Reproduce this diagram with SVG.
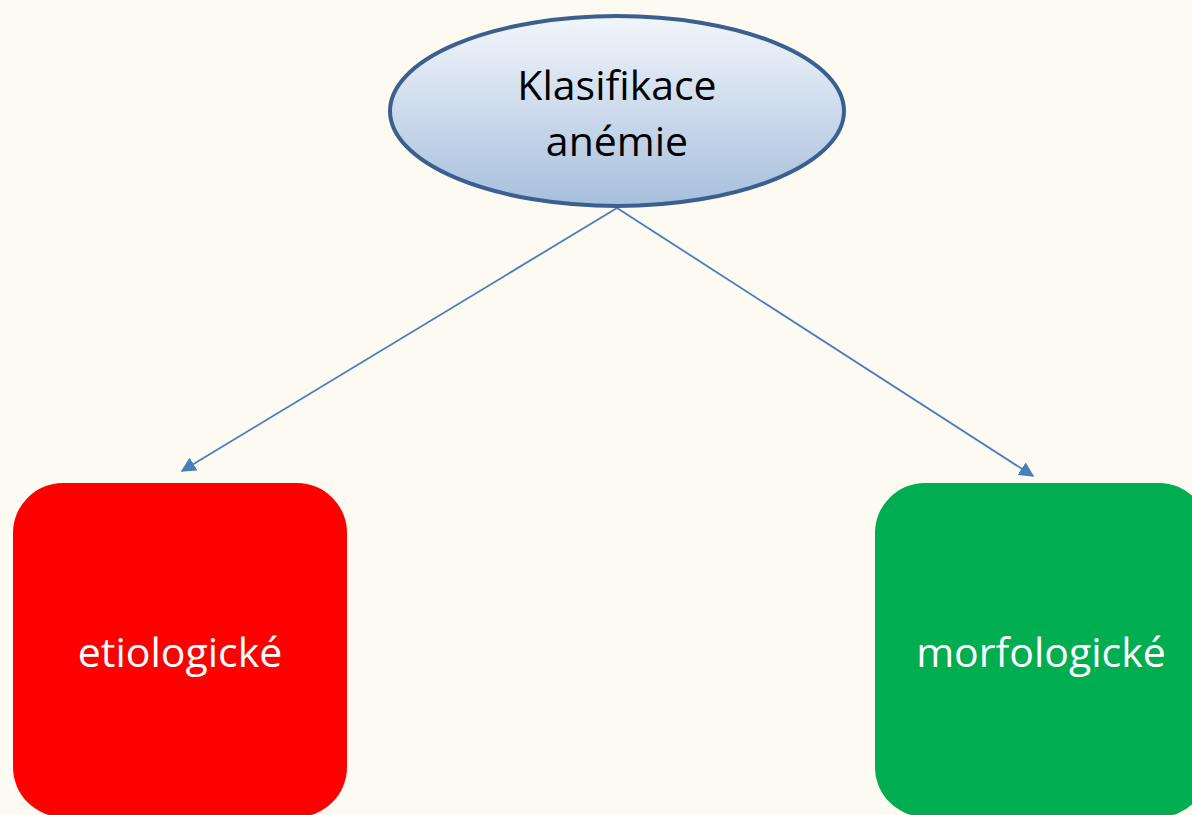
<svg xmlns="http://www.w3.org/2000/svg" width="1192" height="815" viewBox="0 0 1192 815">
  <defs>
    <linearGradient id="ovalFill" x1="0" y1="0" x2="0" y2="1">
      <stop offset="0" stop-color="#f2f6fb"/>
      <stop offset="1" stop-color="#a7bfdd"/>
    </linearGradient>
    <marker id="arrow" viewBox="0 0 10 10" refX="9" refY="5" markerWidth="15" markerHeight="15" markerUnits="userSpaceOnUse" orient="auto">
      <path d="M0,0 L10,5 L0,10 z" fill="#4a7ebb"/>
    </marker>
    <style>
      .label { font-family: "Open Sans", "Noto Sans", "Liberation Sans", sans-serif; font-size: 41px; text-anchor: middle; }
      .edge { stroke: #4a7ebb; stroke-width: 1.8; fill: none; marker-end: url(#arrow); }
    </style>
  </defs>
  <rect width="1192" height="815" fill="#fdfaf2"/>

  <g id="connectors">
    <line class="edge" x1="617" y1="208" x2="182" y2="471"/>
    <line class="edge" x1="617" y1="208" x2="1033" y2="476"/>
  </g>

  <g id="node-root">
    <ellipse cx="617" cy="111" rx="227" ry="95" fill="url(#ovalFill)" stroke="#3b5f8f" stroke-width="4"/>
    <text class="label" x="617" y="100" fill="#000">Klasifikace</text>
    <text class="label" x="617" y="156" fill="#000">anémie</text>
  </g>

  <g id="node-etiologicke">
    <rect x="13" y="483" width="334" height="334" rx="50" fill="#ff0000"/>
    <text class="label" x="180" y="667" fill="#fff">etiologické</text>
  </g>

  <g id="node-morfologicke">
    <rect x="875" y="483" width="334" height="334" rx="50" fill="#00ad50"/>
    <text class="label" x="1041" y="667" fill="#fff">morfologické</text>
  </g>
</svg>
